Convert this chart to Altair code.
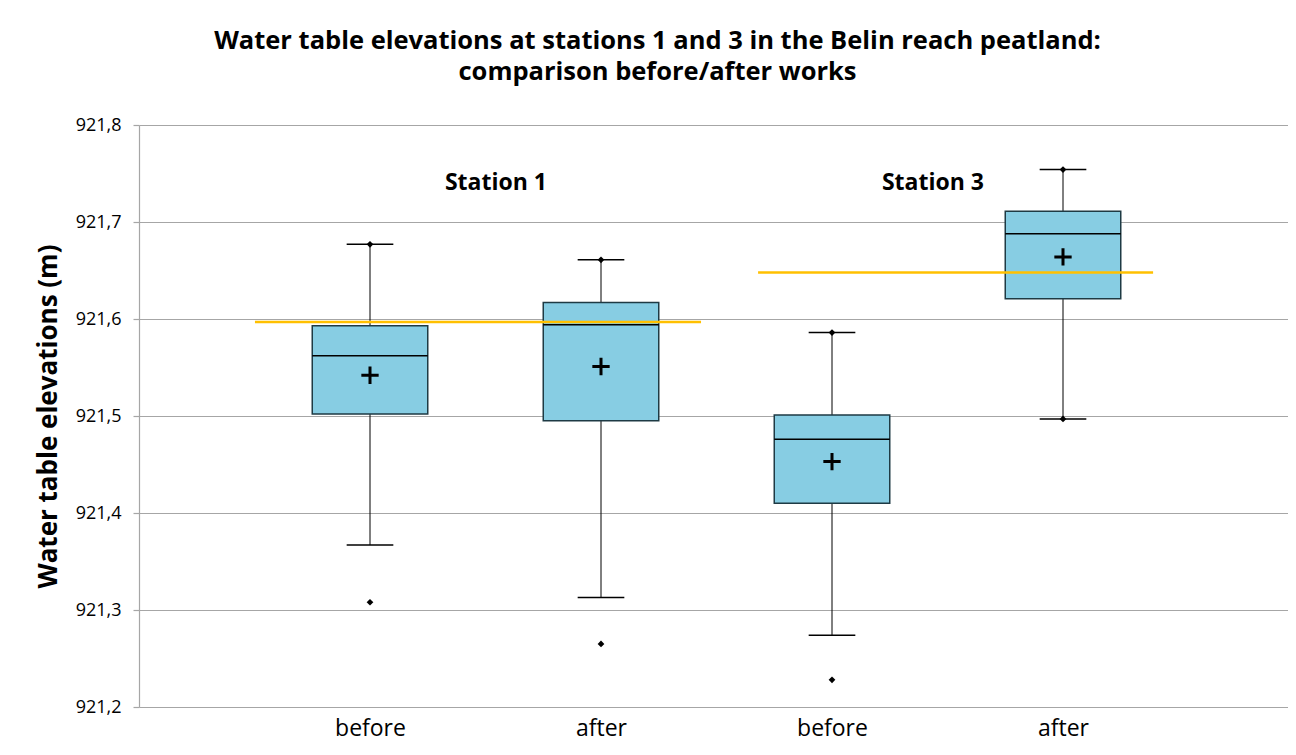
import altair as alt
import pandas as pd

# --- data ---
groups = ["Station 1 before", "Station 1 after", "Station 3 before", "Station 3 after"]
x_labels = ["before", "after", "before", "after"]
positions = [1, 2, 3, 4]
minimum = [921.308, 921.265, 921.228, 921.497]
whisker_low = [921.367, 921.313, 921.274, 921.497]
q1 = [921.502, 921.495, 921.410, 921.621]
median = [921.562, 921.594, 921.476, 921.688]
q3 = [921.593, 921.617, 921.501, 921.711]
maximum = [921.677, 921.661, 921.586, 921.754]
mean = [921.542, 921.551, 921.453, 921.664]

stations = ["Station 1", "Station 3"]
station_label_x = [1.545, 3.437]
station_label_y = [921.740, 921.740]
ref_level = [921.597, 921.648]
ref_x_start = [0.502, 2.68]
ref_x_end = [2.433, 4.39]

box_half = 0.25
cap_half = 0.101

df = pd.DataFrame({
    "group": groups, "label": x_labels, "pos": positions,
    "min": minimum, "wlow": whisker_low, "q1": q1, "median": median,
    "q3": q3, "max": maximum, "mean": mean,
})
ref_df = pd.DataFrame({"station": stations, "level": ref_level,
                       "x0": ref_x_start, "x1": ref_x_end,
                       "lx": station_label_x, "ly": station_label_y})

FONT = "Open Sans"
label_expr = "[" + ",".join("'%s'" % l for l in x_labels) + "][datum.value - 1]"

PLOT_W = 1149
xscale = alt.Scale(domain=[0, PLOT_W / 231], nice=False, zero=False)
yscale = alt.Scale(domain=[921.2, 921.8], nice=False, zero=False)

xaxis = alt.Axis(values=positions, labelExpr=label_expr, title=None, domain=False,
                 ticks=False, grid=False, labelFont=FONT, labelFontSize=23,
                 labelColor="black", labelPadding=10)
yaxis = alt.Axis(values=[921.2, 921.3, 921.4, 921.5, 921.6, 921.7, 921.8],
                 labelExpr="replace(format(datum.value, '.1f'), '.', ',')",
                 title="Water table elevations (m)", titleFont=FONT, titleFontSize=26,
                 titleFontWeight="bold", titleColor="black", titlePadding=14,
                 labelFont=FONT, labelFontSize=18, labelColor="black", labelPadding=12,
                 grid=True, gridColor="#a6a6a6", gridWidth=1.2,
                 domainColor="#a6a6a6", domainWidth=1.2,
                 tickColor="#a6a6a6", tickSize=6, tickWidth=1.2)

base = alt.Chart(df).transform_calculate(
    bl="datum.pos - %f" % box_half, br="datum.pos + %f" % box_half,
    cl="datum.pos - %f" % cap_half, cr="datum.pos + %f" % cap_half,
)

whisker = base.mark_rule(color="black", strokeWidth=1).encode(
    x=alt.X("pos:Q", scale=xscale, axis=xaxis),
    y=alt.Y("wlow:Q", scale=yscale, axis=yaxis),
    y2="max:Q",
)
cap_top = base.mark_rule(color="black", strokeWidth=1.5).encode(
    x="cl:Q", x2="cr:Q", y="max:Q")
cap_bot = base.mark_rule(color="black", strokeWidth=1.5).encode(
    x="cl:Q", x2="cr:Q", y="wlow:Q")
box = base.mark_rect(fill="#87cde3", stroke="#1e3a44", strokeWidth=1.5).encode(
    x="bl:Q", x2="br:Q", y="q1:Q", y2="q3:Q")
med = base.mark_rule(color="black", strokeWidth=1.5).encode(
    x="bl:Q", x2="br:Q", y="median:Q")
mean_pt = base.mark_point(shape="M-1,0L1,0M0,-1L0,1", filled=False, color="black",
                          strokeWidth=3, size=300, opacity=1).encode(
    x="pos:Q", y="mean:Q")
max_pt = base.mark_point(shape="diamond", filled=True, color="black", size=45,
                         opacity=1).encode(x="pos:Q", y="max:Q")
min_pt = base.mark_point(shape="diamond", filled=True, color="black", size=45,
                         opacity=1).encode(x="pos:Q", y="min:Q")

ref = alt.Chart(ref_df).mark_rule(color="#ffc000", strokeWidth=2.5).encode(
    x="x0:Q", x2="x1:Q", y="level:Q")
st_text = alt.Chart(ref_df).mark_text(font=FONT, fontSize=23, fontWeight="bold",
                                      color="black", baseline="middle").encode(
    x="lx:Q", y="ly:Q", text="station:N")

chart = alt.layer(
    whisker, cap_top, cap_bot, box, med, ref, mean_pt, max_pt, min_pt, st_text
).properties(
    width=PLOT_W, height=582,
    padding={"left": 131, "top": 117, "right": 0, "bottom": 38},
    autosize=alt.AutoSizeParams(type="none"),
    title=alt.TitleParams(
        text=["Water table elevations at stations 1 and 3 in the Belin reach peatland:",
              "comparison before/after works"],
        font=FONT, fontSize=25.5, fontWeight="bold", color="black",
        anchor="middle", frame="group", offset=31, lineHeight=31, dx=-56),
    background="white",
).configure_view(stroke=None)

chart.save("out.html", embed_options={"renderer": "svg", "actions": False})
